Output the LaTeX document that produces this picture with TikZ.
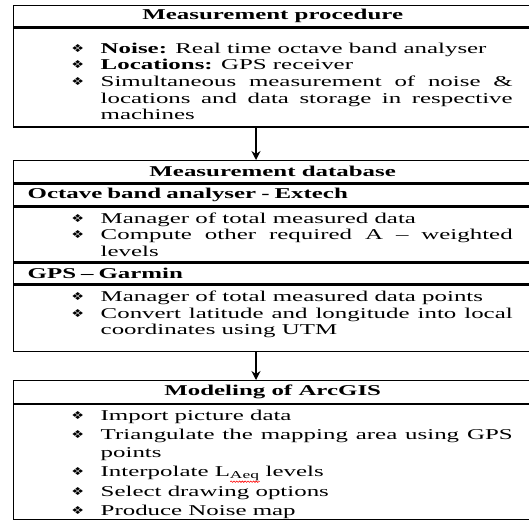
\documentclass[tikz,border=0pt]{standalone}
\usepackage{fontspec}
\setmainfont{Liberation Serif}[FakeStretch=1.66]
\newfontfamily\symfont{DejaVu Sans}[FakeStretch=1.3]
\usetikzlibrary{arrows.meta,positioning,decorations.pathmorphing}

\newcommand\boxfont{\fontsize{15}{16.6}\selectfont}
% bullet item and fixed-height text block of a box
\newcommand\itm[1]{\par\noindent\llap{\makebox[46pt][c]{\raisebox{1pt}{\symfont\fontsize{11}{11}\selectfont ❖}}}\strut#1\par}
\newcommand\bodybox[4][16.6]{\parbox[c][#2pt][t]{518pt}{\fontsize{15}{#1}\selectfont
  \parskip=0pt\leftskip=87pt\rightskip=19pt\hyphenpenalty=10000\tolerance=10000
  \vspace*{#3pt}#4}}
% red spell-check wave under a word
\newsavebox\wavebox
\newcommand\redwave[1]{\sbox\wavebox{#1}\rlap{\tikz[baseline=0pt,x=1pt,y=1pt]
  \draw[red,line width=0.6pt,decorate,decoration={snake,amplitude=0.7pt,segment length=2.8pt}]
  (0,-5) -- (\the\wd\wavebox,-5);}\usebox\wavebox}

\begin{document}
\begin{tikzpicture}[x=1pt,y=-1pt,line width=1.4pt,>={Stealth[length=9pt,width=9pt]},
  font=\boxfont,
  title node/.style={draw,minimum width=518pt,minimum height=#1,inner sep=0pt,
    font=\boxfont\bfseries},
  head node/.style={draw,text width=518pt,minimum height=#1,inner sep=0pt,
    align=left,font=\boxfont\bfseries},
  body node/.style={draw,inner sep=0pt}]

  \useasboundingbox (0,0) rectangle (529,520);

  % Measurement procedure
  \node[title node=21pt,anchor=north west] (proctitle) at (13,5) {Measurement procedure};
  \node[body node,below=0pt of proctitle] (procbody) {\bodybox{99}{13.5}{%
    \itm{\textbf{Noise:} Real time octave band analyser}
    \itm{\textbf{Locations:} GPS receiver}
    \itm{Simultaneous measurement of noise \& locations and data storage in respective machines}}};

  % Measurement database
  \node[title node=22pt,anchor=north west] (dbtitle) at (13,160) {Measurement database};
  \node[head node=22pt,below=0pt of dbtitle] (extech) {\hspace*{14pt}Octave band analyser - Extech};
  \node[body node,below=0pt of extech] (extechbody) {\bodybox{54}{4}{%
    \itm{Manager of total measured data}
    \itm{Compute other required A -- weighted levels}}};
  \node[head node=21pt,below=0pt of extechbody] (garmin) {\hspace*{14pt}GPS -- Garmin};
  \node[body node,below=0pt of garmin] (garminbody) {\bodybox{66}{4.5}{%
    \itm{Manager of total measured data points}
    \itm{Convert latitude and longitude into local coordinates using UTM}}};

  % Modeling of ArcGIS
  \node[title node=23pt,anchor=north west] (arctitle) at (13,380) {Modeling of ArcGIS};
  \node[body node,below=0pt of arctitle] (arcbody) {\bodybox[18.8]{115}{2.5}{%
    \itm{Import picture data}
    \itm{Triangulate the mapping area using GPS points}
    \itm{Interpolate L\redwave{\textsubscript{Aeq}}\ levels}
    \itm{Select drawing options}
    \itm{Produce Noise map}}};

  \coordinate (mid) at (256,0);
  \draw[->] (procbody.south -| mid) -- (dbtitle.north -| mid);
  \draw[->] (garminbody.south -| mid) -- (arctitle.north -| mid);
\end{tikzpicture}
\end{document}
